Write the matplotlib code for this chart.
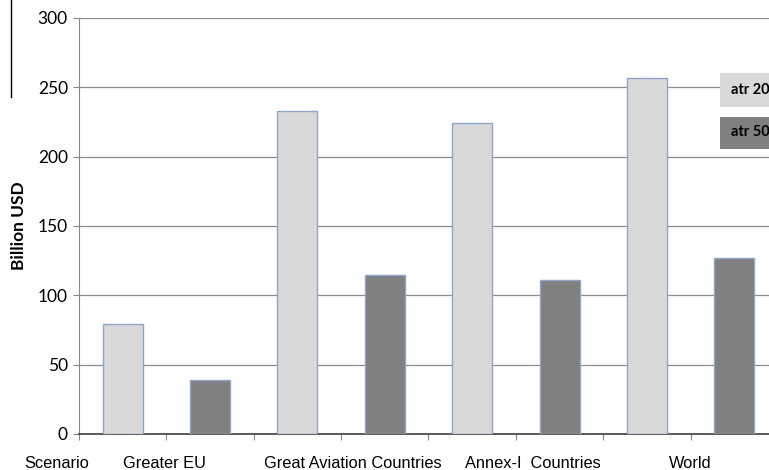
import numpy as np
import matplotlib
matplotlib.use("Agg")
from matplotlib import pyplot as plt
from matplotlib.lines import Line2D
from matplotlib.patches import Rectangle

# Данные
groups = ["Greater EU", "Great Aviation Countries", "Annex-I  Countries", "World"]
atr20 = [79, 233, 224, 257]
atr50 = [39, 115, 111, 127]
series_names = ["atr 20", "atr 50"]
yticks = [0, 50, 100, 150, 200, 250, 300]

c_light = "#d9d9d9"
c_dark = "#808080"
c_edge = "#8ea6c9"

W, H = 769, 470
fig = plt.figure(figsize=(W / 100, H / 100), dpi=100)
ax = fig.add_axes([79 / W, 36 / H, 699 / W, 416 / H])

# 8 слотов: светлые в чётных, тёмные в нечётных
x_light = np.arange(len(groups)) * 2 + 0.5
x_dark = np.arange(len(groups)) * 2 + 1.5
ax.bar(x_light, atr20, width=40 / 87.5, color=c_light, edgecolor=c_edge, linewidth=1, zorder=3)
ax.bar(x_dark, atr50, width=40 / 87.5, color=c_dark, edgecolor=c_edge, linewidth=1, zorder=3)

ax.set_xlim(0, 8)
ax.set_ylim(0, 300)
ax.set_yticks(yticks)
ax.set_xticks(np.arange(0, 9))
ax.set_xticklabels([])
ax.tick_params(axis="x", length=4, color="#888888", direction="out")
ax.tick_params(axis="y", length=4, color="#888888", labelsize=12.5, pad=4)
for lab in ax.get_yticklabels():
    lab.set_family("Lato")
ax.grid(axis="y", color="#8c8c8c", linewidth=0.9, zorder=0)
for s in ["top", "right"]:
    ax.spines[s].set_visible(False)
ax.spines["left"].set_color("#888888")
ax.spines["bottom"].set_color("#404040")
ax.spines["bottom"].set_linewidth(1.2)

ax.set_ylabel("Billion USD", fontsize=12.5, fontweight="bold", family="Lato", labelpad=8)

# подписи групп под осью
label_x = [0.98, 3.13, 5.19, 7.0]
trans = ax.get_xaxis_transform()
for xi, g in zip(label_x, groups):
    ax.text(xi, -0.052, g, transform=trans, ha="center", va="top", fontsize=11.8,
            family="Liberation Sans")
ax.text(-0.26, -0.052, "Scenario", transform=trans, ha="center", va="top", fontsize=11.8,
        family="Liberation Sans")

# обрезанная легенда справа
fig.patches.append(Rectangle((720 / W, 1 - 107 / H), 80 / W, 34 / H, transform=fig.transFigure,
                             facecolor=c_light, edgecolor="none"))
fig.patches.append(Rectangle((720 / W, 1 - 149 / H), 80 / W, 32 / H, transform=fig.transFigure,
                             facecolor=c_dark, edgecolor="none"))
fig.text(731 / W, 1 - 90 / H, series_names[0], ha="left", va="center", fontsize=10.5,
         fontweight="bold", family="Lato")
fig.text(731 / W, 1 - 132 / H, series_names[1], ha="left", va="center", fontsize=10.5,
         fontweight="bold", family="Lato")

# тонкая линия слева сверху
fig.add_artist(Line2D([11 / W, 11 / W], [1, 1 - 97 / H], transform=fig.transFigure,
                      color="black", linewidth=1))

plt.savefig("out.png", dpi=100)
